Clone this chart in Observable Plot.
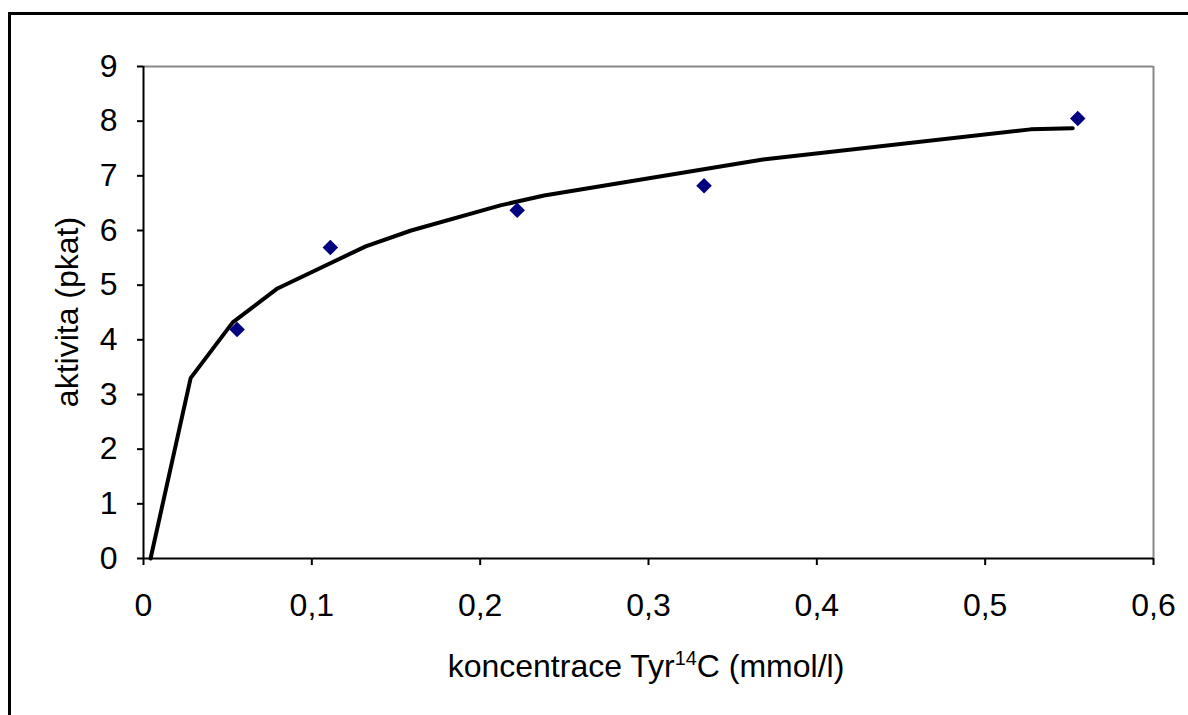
<!DOCTYPE html>
<html>
<head>
<meta charset="utf-8">
<script src="https://cdn.jsdelivr.net/npm/d3@7"></script>
<script src="https://cdn.jsdelivr.net/npm/@observablehq/plot@0.6"></script>
<style>
  html, body { margin: 0; padding: 0; background: #fff; overflow: hidden; }
  #frame { position: absolute; left: 8px; top: 12px; width: 3000px; height: 3000px;
           border-left: 3px solid #000; border-top: 3px solid #000; }
  #chart { position: absolute; left: 0; top: 0; }
</style>
</head>
<body>
<div id="frame"></div>
<div id="chart"></div>
<script>
// measured points (koncentrace, aktivita)
const measX = [0.0556, 0.111, 0.222, 0.333, 0.555];
const measY = [4.19, 5.69, 6.37, 6.82, 8.05];

// fitted curve vertices
const fitX = [0.0042, 0.028, 0.053, 0.0796, 0.132, 0.159, 0.212, 0.238, 0.368, 0.527, 0.552];
const fitY = [0, 3.3, 4.32, 4.94, 5.71, 6.0, 6.46, 6.64, 7.30, 7.85, 7.87];

const xTicks = [0, 0.1, 0.2, 0.3, 0.4, 0.5, 0.6];
const yTicks = [0, 1, 2, 3, 4, 5, 6, 7, 8, 9];

const xLabelMain = "koncentrace Tyr";
const xLabelSup = "14";
const xLabelEnd = "C (mmol/l)";
const yLabel = "aktivita (pkat)";

const meas = measX.map((x, i) => ({x, y: measY[i]}));
const fit = fitX.map((x, i) => ({x, y: fitY[i]}));

const fmtX = d => d === 0 ? "0" : d.toFixed(1).replace(".", ",");

const FS = 32;
const plot = Plot.plot({
  width: 1188,
  height: 715,
  marginLeft: 143,
  marginRight: 35,
  marginTop: 66,
  marginBottom: 157,
  style: {fontFamily: "'Liberation Sans', Arial, sans-serif", fontSize: FS + "px", background: "transparent", overflow: "visible"},
  x: {domain: [0, 0.6]},
  y: {domain: [0, 9]},
  marks: [
    Plot.ruleY([9], {stroke: "#888", strokeWidth: 2}),
    Plot.ruleX([0.6], {stroke: "#888", strokeWidth: 2}),
    Plot.line(fit, {x: "x", y: "y", stroke: "#000", strokeWidth: 4, strokeLinejoin: "miter"}),
    Plot.dot(meas, {x: "x", y: "y", symbol: "diamond2", r: 7, fill: "#000080", stroke: "none"}),
    Plot.ruleX([0], {stroke: "#000", strokeWidth: 2}),
    Plot.ruleY([0], {stroke: "#000", strokeWidth: 2}),
    Plot.axisX({ticks: xTicks, tickFormat: fmtX, tickSize: 7, tickPadding: 28, strokeWidth: 2, stroke: "#000", fill: "#000", label: null, fontSize: FS}),
    Plot.axisY({ticks: yTicks, tickSize: 6, tickPadding: 20, strokeWidth: 2, stroke: "#000", fill: "#000", label: null, fontSize: FS})
  ]
});
document.getElementById("chart").appendChild(plot);

const svg = d3.select(plot);
const xl = svg.append("text")
  .attr("x", 646).attr("y", 677)
  .attr("text-anchor", "middle")
  .attr("font-size", FS)
  .attr("fill", "#000");
xl.append("tspan").text(xLabelMain);
xl.append("tspan").attr("font-size", FS * 0.62).attr("dy", -FS * 0.38).text(xLabelSup);
xl.append("tspan").attr("dy", FS * 0.38).text(xLabelEnd);

svg.append("text")
  .attr("transform", "translate(78,312) rotate(-90)")
  .attr("text-anchor", "middle")
  .attr("font-size", FS)
  .attr("fill", "#000")
  .text(yLabel);
</script>
</body>
</html>
